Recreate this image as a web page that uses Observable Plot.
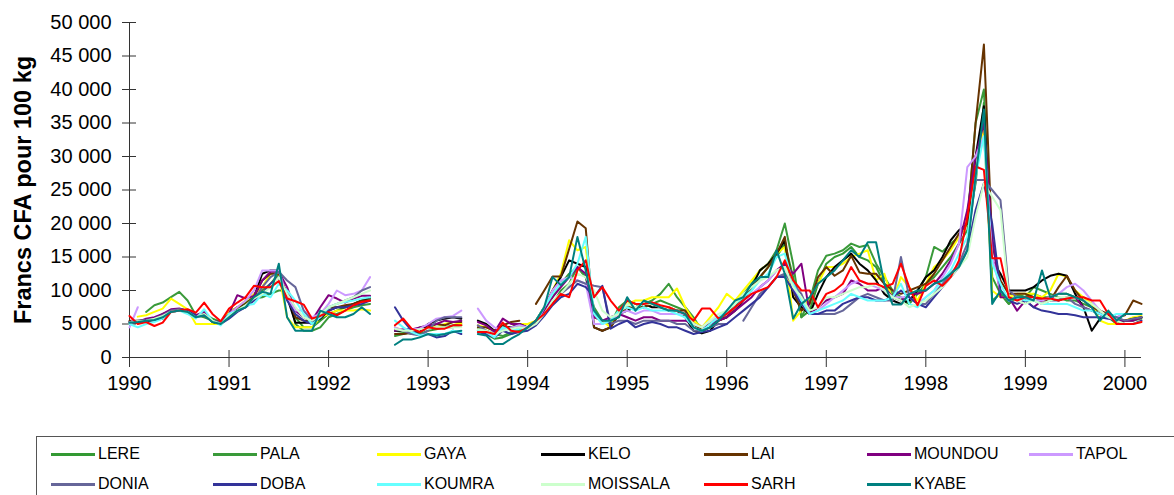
<!DOCTYPE html>
<html>
<head>
<meta charset="utf-8">
<script src="https://cdn.jsdelivr.net/npm/d3@7"></script>
<script src="https://cdn.jsdelivr.net/npm/@observablehq/plot@0.6"></script>
<style>
  html, body { margin: 0; padding: 0; background: #fff; }
  body { width: 1174px; height: 495px; overflow: hidden; position: relative; font-family: "Liberation Sans", Arial, sans-serif; }
  #chart { position: absolute; left: 0; top: 0; }
  #legend { position: absolute; left: 36px; top: 436px; width: 1160px; height: 80px; border: 1px solid #555; box-sizing: border-box; }
  .item { position: absolute; display: flex; align-items: center; font-size: 16px; color: #000; white-space: nowrap; }
  .swatch { width: 44px; height: 3px; margin-right: 3px; }
</style>
</head>
<body>
<div id="chart"></div>
<div id="legend"></div>
<script>
// Prix mensuels (milliers de francs CFA pour 100 kg), janv. 1990 -> mars 2000
const seriesNames = ["LERE","PALA","GAYA","KELO","LAI","MOUNDOU","TAPOL","DONIA","DOBA","KOUMRA","MOISSALA","SARH","KYABE"];
const seriesColors = ["#339933","#3a9a3a","#ffff00","#000000","#663300","#800080","#cc99ff","#666699","#333399","#66ffff","#ccffcc","#ff0000","#008080"];
const yearTicks = [1990,1991,1992,1993,1994,1995,1996,1997,1998,1999,2000];
const priceTicks = [0,5000,10000,15000,20000,25000,30000,35000,40000,45000,50000];

const LERE = [
 5.2,5.4,5.6,5.8,6.5,7.0,7.2,7.0,6.0,6.5,5.8,5.3,
 6.8,7.5,8.2,9.0,10.0,11.0,12.5,9.0,6.0,4.5,4.5,5.5,
 6.5,7.0,7.5,7.8,8.5,8.8,null,null,4.0,3.8,3.5,3.5,
 4.0,4.2,4.5,4.8,5.0,null,4.0,3.5,2.8,3.0,3.5,4.0,
 4.5,5.5,7.0,9.0,11.0,12.5,13.5,12.0,6.5,5.5,5.5,6.5,
 8.5,8.0,7.5,8.0,8.5,8.0,7.5,7.0,5.5,4.5,5.0,6.0,
 6.5,7.5,9.0,10.0,12.0,13.5,15.0,17.0,12.0,6.0,7.0,11.0,
 14.0,15.0,15.5,16.5,15.0,14.5,13.5,11.0,9.5,8.5,8.0,9.5,
 11.0,12.0,13.5,15.0,17.0,19.0,26.0,38.0,12.0,9.5,8.0,9.0,
 9.0,9.5,9.0,9.0,9.5,9.5,9.0,8.5,8.0,7.0,6.0,5.5,
 5.5,5.8,6.0];
const PALA = [
 null,null,6.8,7.8,8.2,9.0,9.8,8.5,6.3,6.0,5.5,5.0,
 6.5,7.2,8.0,8.8,9.0,9.5,10.0,10.0,5.0,4.0,4.0,4.5,
 6.0,6.5,7.0,7.5,7.8,8.0,null,null,3.2,3.5,3.8,4.5,
 4.5,4.5,4.5,4.5,4.8,null,4.3,4.0,3.5,3.2,3.8,4.2,
 4.5,5.0,6.5,8.0,10.0,11.0,13.5,12.0,7.5,5.5,5.0,7.5,
 8.5,8.0,8.0,8.5,9.5,11.0,9.0,7.5,6.0,4.0,4.5,5.5,
 6.5,8.0,9.5,11.0,13.0,14.0,16.0,20.0,14.0,6.0,8.5,13.0,
 15.2,15.5,16.0,17.0,16.5,16.8,14.0,12.0,10.0,9.0,8.0,10.0,
 12.0,16.5,15.8,17.0,18.0,20.0,35.0,40.0,8.5,9.5,8.0,9.5,
 9.0,10.5,10.0,9.5,9.0,8.5,8.5,8.0,7.5,6.5,6.0,5.0,
 5.5,5.5,5.8];
const GAYA = [
 null,6.1,6.3,6.8,7.3,8.8,8.0,7.2,5.0,5.0,5.0,5.0,
 6.8,7.5,8.5,9.5,10.5,12.5,12.5,6.0,4.5,4.5,4.5,6.0,
 6.5,7.0,7.0,7.0,7.2,7.0,null,null,4.5,4.0,4.0,4.2,
 4.8,4.5,5.0,5.3,5.0,null,4.8,4.5,4.0,4.5,4.5,5.0,
 5.0,5.5,7.5,10.0,12.5,17.5,16.0,16.5,6.0,5.5,4.5,7.0,
 8.0,8.5,8.5,9.0,9.0,9.0,10.3,7.5,5.5,4.5,6.0,7.5,
 9.5,8.5,10.0,11.5,13.0,14.0,15.5,16.5,5.5,7.0,9.0,11.0,
 13.5,13.5,14.0,15.0,15.5,16.0,11.5,12.5,8.5,12.0,10.5,8.5,
 11.0,13.5,14.5,16.0,18.0,20.0,30.0,34.0,10.0,9.0,9.0,9.5,
 9.5,9.5,9.0,10.0,12.5,12.0,10.0,9.0,8.0,5.5,5.0,5.0,
 5.5,6.0,6.2];
const KELO = [
 5.3,5.2,5.4,5.6,5.8,7.0,7.2,7.0,6.0,6.5,5.3,5.0,
 6.0,7.0,7.8,9.0,12.5,13.0,13.0,9.0,5.2,5.2,5.2,5.8,
 7.0,7.5,7.5,8.0,8.5,9.0,null,null,4.0,4.0,3.8,3.8,
 5.0,5.5,5.8,6.0,5.8,null,5.5,5.0,4.0,4.5,4.5,5.0,
 4.5,5.5,7.5,10.0,12.0,14.5,14.0,13.5,4.5,4.0,4.5,6.5,
 7.0,7.5,8.0,7.5,7.5,7.0,7.0,6.0,4.0,3.6,4.0,5.5,
 6.0,7.0,8.5,10.5,13.0,14.0,15.5,17.5,9.0,7.5,6.5,9.5,
 12.0,13.5,14.5,15.5,14.0,13.0,11.5,9.5,8.5,8.0,8.5,10.0,
 12.0,13.0,15.0,17.5,19.0,20.0,30.0,37.5,14.5,12.5,10.0,10.0,
 10.0,10.5,11.5,12.2,12.5,12.2,9.5,7.5,4.0,5.8,6.3,5.5,
 5.5,5.8,6.0];
const LAI = [
 5.5,5.5,5.6,5.8,6.3,7.0,7.0,7.0,6.0,6.5,5.5,5.3,
 6.5,7.5,8.0,9.0,11.5,12.5,12.5,9.5,6.0,5.5,5.5,6.0,
 7.5,7.5,7.8,8.0,8.5,8.5,null,null,3.5,3.5,3.7,3.8,
 4.5,5.0,4.8,5.3,5.3,null,4.5,4.5,4.0,4.8,5.3,5.5,
 null,8.0,10.0,12.1,12.1,16.2,20.3,19.3,4.5,4.0,4.5,6.5,
 7.5,7.5,7.5,8.0,7.5,7.5,7.0,7.0,5.0,4.0,4.5,5.5,
 6.0,7.5,9.0,10.5,12.0,13.5,15.5,18.0,10.0,7.0,8.0,12.0,
 13.5,12.2,13.0,15.2,12.7,12.5,12.5,11.0,10.0,9.5,10.0,10.5,
 11.0,12.5,14.5,16.5,18.5,20.0,35.0,46.7,17.0,11.5,9.5,9.5,
 9.5,9.0,8.5,8.5,10.5,12.2,10.0,8.5,7.5,7.0,6.5,6.0,
 6.3,8.5,8.0];
const MOUNDOU = [
 5.3,5.3,5.8,6.0,6.5,7.2,7.3,7.0,6.3,6.8,5.5,5.2,
 6.5,9.3,8.8,9.2,11.5,12.8,12.8,10.5,7.0,6.0,5.5,7.5,
 9.3,8.8,8.2,8.8,9.2,9.2,null,null,4.0,4.2,4.2,4.5,
 4.8,5.0,5.5,5.3,5.5,null,5.3,4.8,3.8,5.8,5.0,5.0,
 4.5,5.0,7.0,9.0,10.5,12.0,13.5,12.5,6.0,5.5,6.0,6.5,
 6.0,5.5,6.0,6.0,5.5,5.5,5.5,5.5,5.0,4.5,5.0,5.5,
 6.0,7.0,8.0,9.0,10.5,11.5,13.0,14.0,12.5,14.0,6.5,7.5,
 8.5,9.0,9.5,11.5,11.0,10.0,10.0,10.5,9.0,8.5,9.5,9.5,
 10.0,11.0,12.5,14.5,17.0,22.0,30.0,35.0,18.0,9.0,9.0,7.0,
 8.5,7.5,8.5,9.0,8.5,9.0,9.0,7.5,7.0,6.5,6.0,5.5,
 5.5,5.5,6.0];
const TAPOL = [
 4.5,7.5,null,null,null,null,null,null,null,null,null,null,
 6.5,7.5,8.5,10.0,13.0,13.0,13.0,9.0,7.0,7.0,6.0,6.5,
 8.0,10.0,9.3,9.5,10.0,12.0,null,null,4.5,4.0,4.2,4.3,
 5.0,5.8,6.0,6.2,7.0,null,7.3,5.5,4.5,4.0,4.5,4.8,
 4.5,5.0,7.5,10.0,11.5,12.0,11.5,11.0,5.0,5.0,5.5,6.5,
 7.0,6.5,7.0,7.0,6.5,6.5,6.5,6.5,5.0,4.5,5.5,6.0,
 6.5,7.5,8.5,9.5,10.5,11.5,13.0,13.5,10.5,8.0,6.5,7.0,
 8.0,9.0,10.0,11.0,11.5,11.0,10.5,10.0,9.0,9.0,9.0,8.0,
 9.0,10.0,12.0,14.0,17.0,28.4,30.0,33.0,15.0,10.0,8.5,9.0,
 8.5,8.5,8.5,9.0,9.5,10.5,11.0,10.0,8.5,7.0,6.0,6.0,
 6.5,6.5,6.5];
const DONIA = [
 5.3,5.5,5.6,5.8,6.3,7.0,7.2,7.0,6.0,6.3,5.5,5.2,
 6.2,7.0,7.5,8.5,10.5,12.0,12.8,11.5,10.5,7.0,5.5,6.5,
 7.5,8.0,8.5,9.0,10.0,10.5,null,null,4.2,4.0,3.5,3.3,
 4.0,5.5,6.0,6.0,6.0,null,4.8,4.0,3.5,4.5,4.3,4.5,
 4.3,5.0,6.5,8.0,9.5,10.5,11.5,11.0,10.7,10.5,5.0,5.5,
 5.5,5.0,5.5,5.5,5.5,5.5,5.0,5.0,4.0,4.0,4.5,5.0,
 5.0,null,5.5,7.5,9.5,10.5,12.0,12.5,11.0,9.5,6.5,6.5,
 6.5,6.5,7.0,8.0,9.0,9.5,9.0,8.5,8.5,15.0,9.0,8.0,
 8.0,9.5,11.0,12.5,14.0,17.0,26.5,26.5,25.0,23.5,10.0,9.0,
 8.5,8.5,8.0,8.5,8.5,9.0,8.0,7.5,7.0,6.5,6.5,6.0,
 5.5,5.8,6.0];
const DOBA = [
 5.2,5.3,5.5,5.6,6.0,6.8,7.0,7.0,6.2,6.3,5.5,5.0,
 5.8,6.8,7.5,8.5,9.5,11.0,12.0,8.5,6.5,5.5,5.0,6.0,
 7.0,7.5,7.5,7.8,8.0,8.5,null,null,7.5,5.5,4.0,3.3,
 3.5,3.0,3.2,4.0,3.5,null,3.8,3.5,3.0,4.0,3.5,3.8,
 4.0,4.8,6.2,7.8,9.0,9.5,11.0,10.5,9.0,10.7,4.3,5.0,
 5.5,4.5,5.0,5.3,5.0,4.5,4.5,4.0,3.5,3.8,4.0,4.5,
 5.0,6.0,7.0,8.0,9.0,10.5,12.0,12.0,10.0,8.0,6.5,6.5,
 7.0,7.0,8.0,8.5,9.0,9.0,8.5,8.5,9.0,10.0,9.0,8.0,
 7.5,9.0,10.5,12.0,13.5,16.0,22.0,26.0,20.0,10.0,8.5,8.0,
 8.5,7.5,7.0,6.8,6.5,6.5,6.3,6.0,6.0,6.0,5.8,5.5,
 5.0,5.0,5.5];
const KOUMRA = [
 5.0,4.5,5.0,5.3,5.8,6.8,7.0,6.5,5.8,7.2,5.5,4.8,
 6.5,7.0,7.8,8.0,9.5,9.0,11.0,10.0,8.5,6.5,5.0,6.0,
 7.5,8.0,8.3,8.5,8.8,9.0,null,null,5.5,4.5,3.8,3.3,
 3.5,3.5,3.5,4.0,3.8,null,4.0,3.8,3.0,4.5,4.0,4.3,
 4.5,5.5,7.5,9.5,11.0,12.0,14.0,18.0,6.5,5.0,5.5,7.0,
 7.5,7.0,7.5,7.0,7.0,7.0,6.5,6.0,4.5,4.0,5.0,6.0,
 7.0,8.0,9.0,10.0,11.5,12.5,15.0,15.5,11.0,8.5,6.5,7.0,
 7.5,8.0,8.5,9.5,9.0,8.5,8.5,8.5,9.0,11.0,8.0,7.5,
 9.0,10.0,11.5,13.0,15.5,18.0,27.0,33.0,14.0,11.0,8.5,9.0,
 8.5,8.5,8.0,8.0,8.0,8.0,7.5,7.0,7.0,6.5,6.0,6.5,
 6.5,6.5,6.5];
const MOISSALA = [
 5.2,5.4,5.5,5.8,6.2,6.8,7.0,6.8,6.0,6.5,5.5,5.0,
 6.2,7.0,7.8,8.8,9.5,10.5,12.0,9.5,7.5,6.0,5.5,6.5,
 7.5,8.0,8.5,9.0,9.5,10.0,null,null,4.3,4.0,4.0,4.2,
 4.3,4.5,4.5,4.5,4.5,null,4.2,4.0,3.5,4.0,4.3,4.5,
 4.3,5.0,6.5,8.5,9.5,11.0,12.5,12.0,10.0,7.0,6.0,6.5,
 8.0,7.5,8.0,8.0,7.5,7.5,7.0,6.5,5.0,4.5,5.5,6.5,
 7.0,8.0,9.5,10.5,11.5,12.0,13.0,13.5,10.5,9.0,7.0,7.5,
 9.0,9.0,9.5,10.0,10.5,10.5,11.0,10.0,9.0,8.5,7.5,8.0,
 8.5,9.5,10.5,12.0,13.5,15.0,21.0,26.0,24.0,22.0,9.0,8.5,
 8.0,8.5,8.0,8.5,9.0,9.0,9.0,8.5,8.0,7.0,6.0,5.5,
 5.0,5.0,5.3];
const SARH = [
 6.2,5.0,5.3,4.7,5.2,6.8,7.0,7.2,6.7,8.2,6.5,5.4,
 7.3,8.2,9.0,10.7,10.5,10.5,11.4,8.8,8.4,7.9,5.8,6.2,
 6.8,6.3,7.0,7.8,8.3,8.5,null,null,4.8,5.8,4.3,3.8,
 4.5,4.3,4.3,4.8,4.8,null,3.8,3.8,3.5,5.2,4.0,3.8,
 4.5,5.5,6.5,8.0,9.5,9.0,13.0,14.5,9.0,10.5,8.5,7.0,
 8.5,8.0,8.0,8.2,7.8,7.5,7.0,6.5,5.5,7.3,7.3,5.8,
 6.5,7.5,8.5,9.5,10.0,10.5,12.0,14.5,11.5,10.0,10.0,7.5,
 9.5,10.0,11.0,13.5,11.5,11.0,11.0,10.5,11.0,14.0,10.5,7.8,
 10.7,11.5,10.7,12.0,14.5,21.0,28.5,28.0,14.8,14.8,9.0,8.5,
 9.0,9.0,8.8,8.8,8.5,8.8,9.0,9.0,8.5,8.5,6.5,5.0,
 5.0,5.0,5.3];
const KYABE = [
 5.2,5.3,5.5,5.6,6.0,6.8,7.0,6.8,6.0,6.3,5.3,5.0,
 6.0,7.0,7.5,9.0,9.8,9.5,14.0,6.0,4.0,4.0,4.0,7.0,
 6.5,6.0,6.0,6.5,7.5,6.5,null,null,1.9,2.7,2.7,3.0,
 3.5,3.3,3.5,3.8,4.0,null,3.5,3.3,2.0,2.0,2.8,3.5,
 4.5,5.5,7.5,12.0,10.8,12.0,18.0,13.0,7.0,5.5,5.5,6.0,
 9.0,7.0,8.5,8.0,7.5,7.0,7.0,6.5,4.5,4.0,4.5,5.5,
 7.0,8.5,9.0,11.0,12.0,12.0,16.0,12.5,5.8,8.0,9.0,11.0,
 12.0,13.0,14.5,16.0,15.0,17.2,17.2,11.0,7.9,7.9,9.5,10.0,
 10.0,11.0,11.5,12.5,13.5,16.0,27.0,37.0,8.0,10.0,8.5,9.0,
 9.0,8.5,13.0,9.0,9.5,9.5,9.0,8.5,7.5,5.5,7.0,5.5,
 6.5,6.5,6.5];

const seriesValues = [LERE,PALA,GAYA,KELO,LAI,MOUNDOU,TAPOL,DONIA,DOBA,KOUMRA,MOISSALA,SARH,KYABE];

// table for Plot (values converted from milliers to francs)
const rows = [];
seriesNames.forEach((name, k) => {
  seriesValues[k].forEach((v, i) => {
    rows.push({name, t: 1990 + i / 12, v: v == null ? null : v * 1000});
  });
});

const W = 1174, H = 400, ML = 129, MR = 33, MT = 22, MB = 43;
const frameW = W - ML - MR, frameH = H - MT - MB;
const fmtY = d => d3.format(",")(d).replace(/,/g, " ");
const axisColor = "#333";

const chart = Plot.plot({
  width: W, height: H,
  marginLeft: ML, marginRight: MR, marginTop: MT, marginBottom: MB,
  style: {fontFamily: "'Liberation Sans', Arial, sans-serif", fontSize: "20px", color: "#000", background: "#fff", overflow: "visible"},
  x: {type: "linear", domain: [1990, 1990 + 122 / 12]},
  y: {domain: [0, 50000]},
  color: {domain: seriesNames, range: seriesColors},
  marks: [
    Plot.ruleX([yearTicks[0]], {stroke: axisColor}),
    Plot.ruleY([0], {stroke: axisColor}),
    Plot.ruleY(priceTicks, {stroke: axisColor, insetLeft: -7, insetRight: frameW - 7}),
    Plot.ruleX(yearTicks, {stroke: axisColor, insetTop: frameH - 7, insetBottom: -10}),
    Plot.line(rows, {x: "t", y: "v", z: "name", stroke: "name", strokeWidth: 2}),
    Plot.axisY(priceTicks, {tickSize: 0, tickPadding: 18, tickFormat: fmtY, label: null, fontSize: 20}),
    Plot.axisX(yearTicks, {tickSize: 0, tickPadding: 18, tickFormat: d3.format("d"), label: null, fontSize: 20}),
    Plot.text(["Francs CFA pour 100 kg"], {frameAnchor: "left", dx: -106, rotate: -90, textAnchor: "middle", lineAnchor: "middle", fontWeight: "bold", fontSize: 23.5, fill: "#000"})
  ]
});
document.getElementById("chart").appendChild(chart);

// legend
const legend = document.getElementById("legend");
const colX = [14, 176, 340, 504, 667, 830, 992];
const rowY = [17, 47];
seriesNames.forEach((name, i) => {
  const r = Math.floor(i / 7), c = i % 7;
  const item = document.createElement("div");
  item.className = "item";
  item.style.left = colX[c] + "px";
  item.style.top = (rowY[r] - 10) + "px";
  item.style.height = "20px";
  const sw = document.createElement("span");
  sw.className = "swatch";
  sw.style.background = seriesColors[i];
  const tx = document.createElement("span");
  tx.textContent = name;
  item.appendChild(sw);
  item.appendChild(tx);
  legend.appendChild(item);
});
</script>
</body>
</html>
